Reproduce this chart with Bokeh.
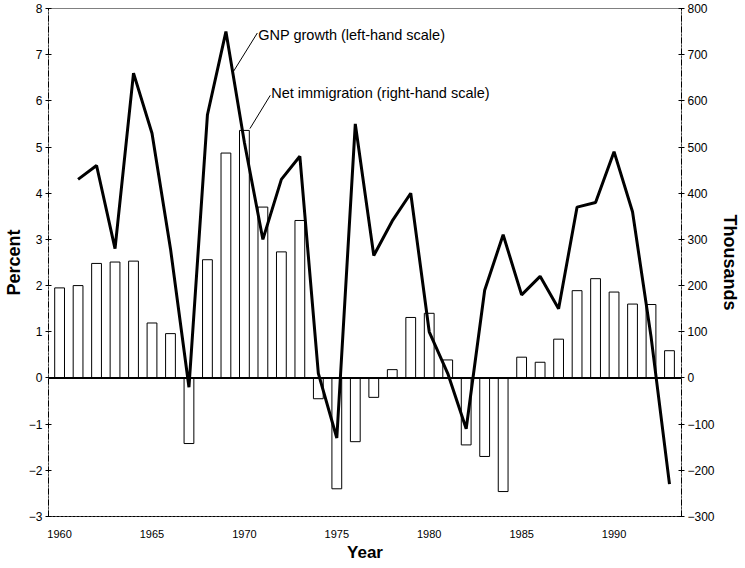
from bokeh.plotting import figure
from bokeh.models import Range1d, LinearAxis, FixedTicker, Span, Label
from bokeh.embed import file_html
from bokeh.resources import INLINE

# ---- data ----
years = list(range(1960, 1994))
net_immigration = [195, 200, 248, 251, 253, 119, 96, -142, 256, 487,
                   536, 370, 273, 341, -45, -240, -138, -42, 18, 131,
                   140, 39, -145, -170, -246, 45, 34, 84, 189, 215,
                   186, 160, 159, 59]          # thousands (right-hand scale)
gnp_years = list(range(1961, 1994))
gnp_growth = [4.3, 4.6, 2.8, 6.6, 5.3, 2.8, -0.2, 5.7, 7.5, 5.1,
              3.0, 4.3, 4.8, 0.1, -1.3, 5.5, 2.65, 3.4, 4.0, 1.0,
              0.1, -1.1, 1.9, 3.1, 1.8, 2.2, 1.5, 3.7, 3.8, 4.9,
              3.6, 0.9, -2.3]               # percent (left-hand scale)
left_ticks = list(range(-3, 9))
right_ticks = list(range(-300, 801, 100))
year_ticks = [1960, 1965, 1970, 1975, 1980, 1985, 1990]

FONT = "Liberation Sans"

p = figure(width=742, height=564, output_backend="svg", toolbar_location=None,
           x_range=Range1d(1959.4, 1993.65), y_range=Range1d(-3, 8))
p.min_border_top = 8
p.min_border_left = 0
p.min_border_right = 0
p.min_border_bottom = 0
p.background_fill_color = "white"
p.border_fill_color = "white"
p.outline_line_color = "black"
p.outline_line_dash = "1 1"
p.outline_line_width = 1
p.grid.visible = False

p.extra_y_ranges = {"right": Range1d(-300, 800)}

# bars (net immigration, right scale)
p.vbar(x=years, top=net_immigration, bottom=0, width=0.53,
       fill_color="white", line_color="black", line_width=1,
       y_range_name="right")

# zero line
p.add_layout(Span(location=0, dimension="width", line_color="black", line_width=2))

# GNP growth line
p.line(x=gnp_years, y=gnp_growth, line_color="black", line_width=3)

# annotations with leader lines
p.segment(x0=[1969.35], y0=[6.6], x1=[1970.7], y1=[7.47], line_color="black", line_width=1)
p.segment(x0=[1970.3], y0=[540], x1=[1971.4], y1=[612], line_color="black", line_width=1,
          y_range_name="right")
p.add_layout(Label(x=1970.75, y=7.43, text="GNP growth (left-hand scale)",
                   text_font=FONT, text_font_size="14.5px", text_baseline="middle",
                   text_color="black"))
p.add_layout(Label(x=1971.45, y=618, y_range_name="right",
                   text="Net immigration (right-hand scale)",
                   text_font=FONT, text_font_size="14.5px", text_baseline="middle",
                   text_color="black"))


def style_axis(ax, label, size):
    ax.axis_label = label
    ax.axis_label_text_font = FONT
    ax.axis_label_text_font_style = "bold"
    ax.axis_label_text_font_size = size
    ax.axis_label_text_color = "black"
    ax.major_label_text_font = FONT
    ax.major_label_text_color = "black"
    ax.minor_tick_line_color = None
    ax.axis_line_color = "black"
    ax.major_tick_line_color = "black"


xa = p.xaxis[0]
xa.ticker = FixedTicker(ticks=year_ticks)
style_axis(xa, "Year", "17px")
xa.axis_label_standoff = 2
xa.major_label_text_font_size = "11px"
xa.major_label_standoff = 7
xa.major_tick_line_color = None
xa.axis_line_dash = "3 1"

ya = p.yaxis[0]
ya.ticker = FixedTicker(ticks=left_ticks)
style_axis(ya, "Percent", "18px")
ya.axis_label_standoff = 2
ya.major_label_text_font_size = "12px"
ya.major_label_standoff = 3
ya.major_tick_in = 3
ya.major_tick_out = 3
ya.axis_line_dash = "6 2 1 2"

ra = LinearAxis(y_range_name="right")
ra.ticker = FixedTicker(ticks=right_ticks)
style_axis(ra, "Thousands", "18px")
ra.axis_label_standoff = 2
ra.major_label_text_font_size = "12px"
ra.major_label_standoff = 3
ra.major_tick_in = 3
ra.major_tick_out = 3
ra.axis_line_dash = "6 2 1 2"
p.add_layout(ra, "right")

open("out.html", "w").write(file_html(p, INLINE))
